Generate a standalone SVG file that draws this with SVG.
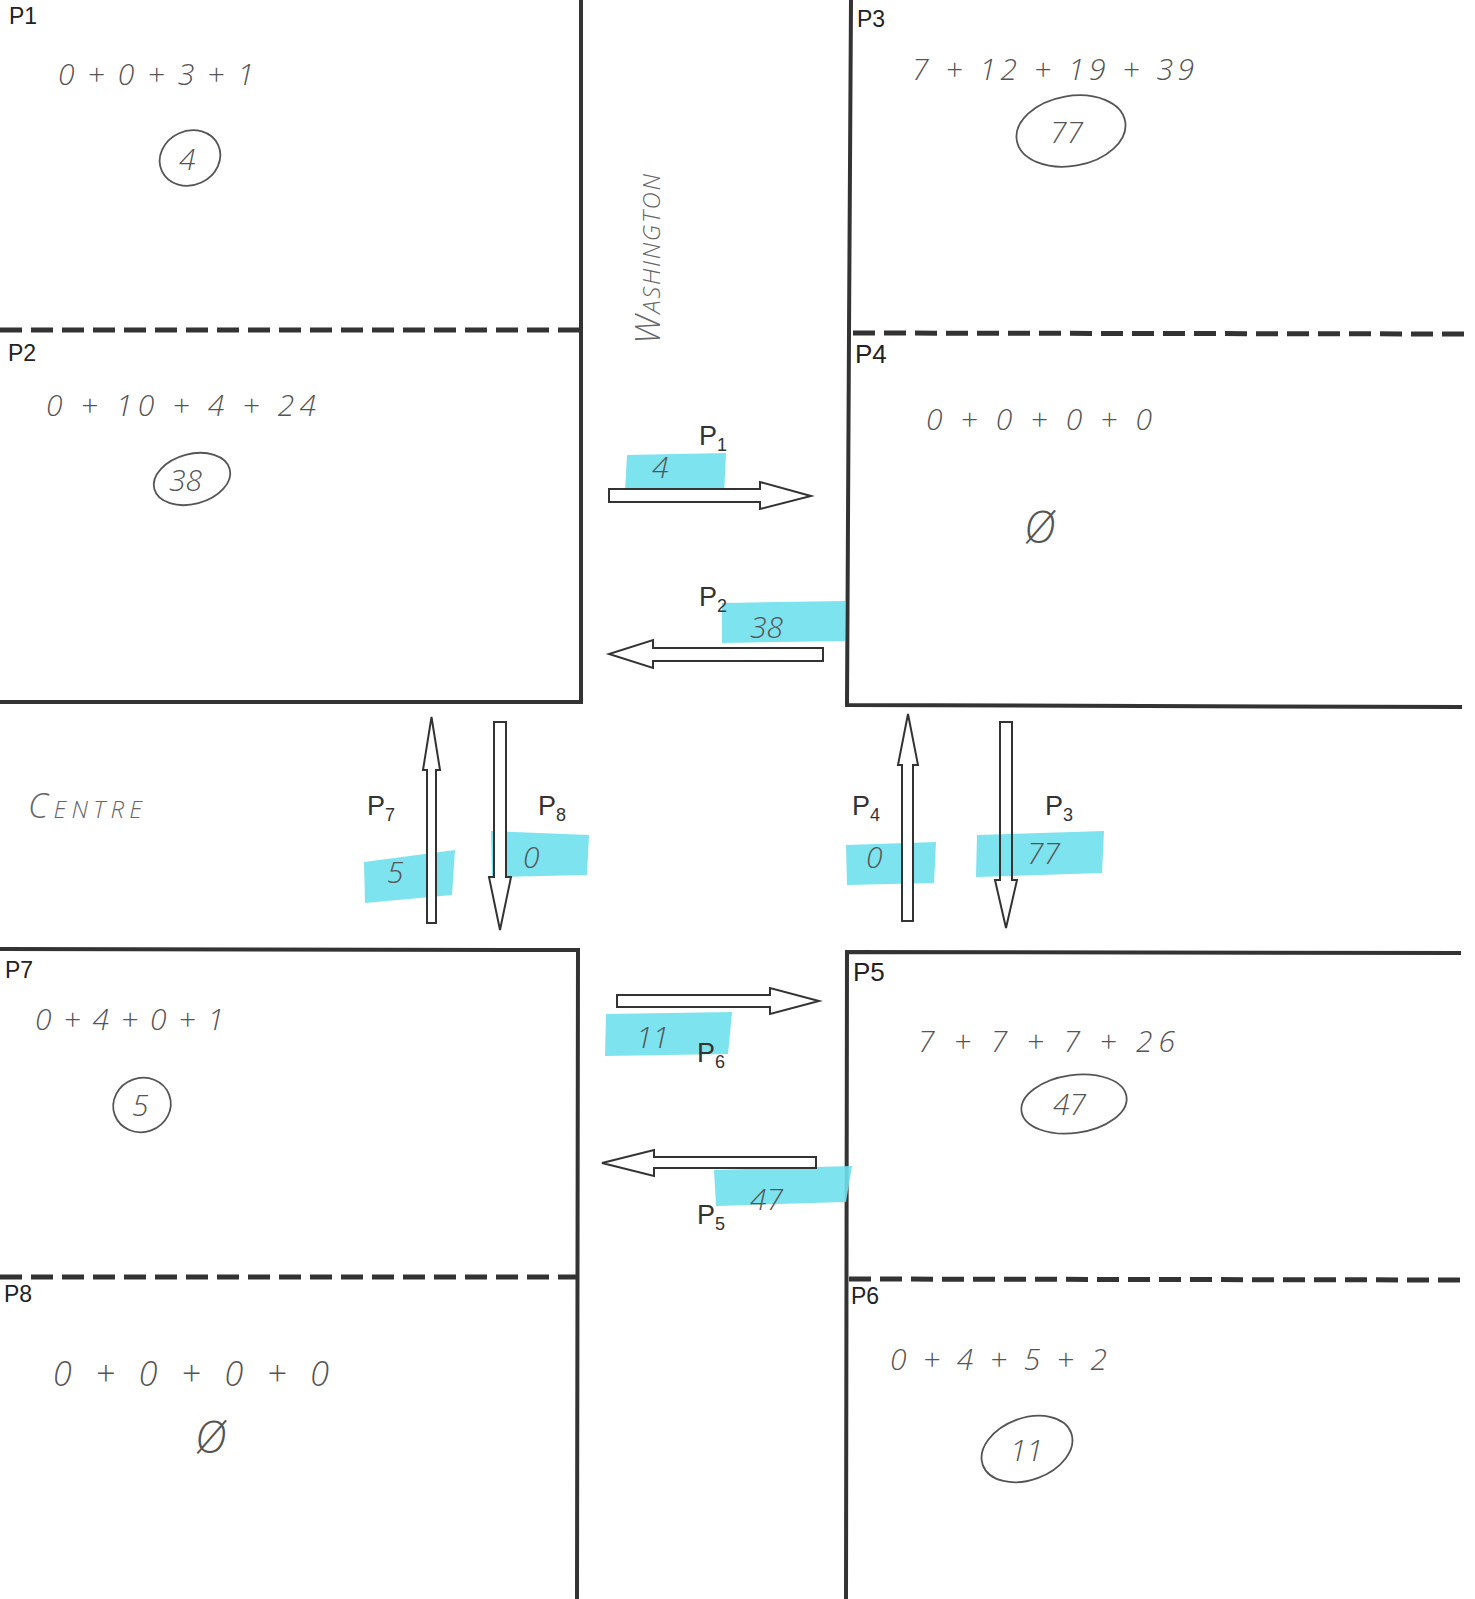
<svg xmlns="http://www.w3.org/2000/svg" width="1475" height="1599" viewBox="0 0 1475 1599">
<style>
.wall{stroke:#333;stroke-width:4;fill:none}
.dash{stroke:#333;stroke-width:5;fill:none;stroke-dasharray:22 9}
.plabel{font-family:"Liberation Sans",Arial,sans-serif;font-size:23px;fill:#222}
.alabel{font-family:"Liberation Sans",Arial,sans-serif;font-size:27px;fill:#333}
.sub{font-size:18px}
.hand{font-family:"Open Sans","Liberation Sans",sans-serif;font-style:italic;font-weight:300;font-size:30px;fill:#555}
.ring{stroke:#555;stroke-width:1.8;fill:none}
.hl{fill:#6fe0ec;opacity:0.9}
.arrow{fill:#fff;stroke:#333;stroke-width:2}
.street{font-family:"Open Sans","Liberation Sans",sans-serif;font-style:italic;font-weight:300;font-variant:small-caps;font-size:34px;fill:#666}
</style>
<rect width="1475" height="1599" fill="#fff"/>

<g id="blocks">
  <polyline class="wall" points="0,702 581,702 581,0"/>
  <line class="dash" x1="0" y1="330" x2="581" y2="330"/>
  <polyline class="wall" points="851,0 849,333 847,705 1462,707"/>
  <line class="dash" x1="853" y1="333" x2="1464" y2="334"/>
  <polyline class="wall" points="0,949 578,950 577,1599"/>
  <line class="dash" x1="0" y1="1277" x2="577" y2="1277"/>
  <polyline class="wall" points="846,1599 847,952 1461,953"/>
  <line class="dash" x1="849" y1="1279" x2="1462" y2="1280"/>
</g>

<g id="streets">
  <text class="street" transform="translate(660,344) rotate(-90)" textLength="170" lengthAdjust="spacing">Washington</text>
  <text class="street" x="28" y="818" textLength="114" lengthAdjust="spacing">Centre</text>
</g>

<g id="P1">
  <text class="plabel" x="9" y="24">P1</text>
  <text class="hand" x="58" y="85" textLength="196" lengthAdjust="spacing">0 + 0 + 3 + 1</text>
  <ellipse class="ring" cx="190" cy="158" rx="31" ry="27" transform="rotate(-25 190 158)"/>
  <text class="hand" x="179" y="170">4</text>
</g>
<g id="P2">
  <text class="plabel" x="8" y="361">P2</text>
  <text class="hand" x="46" y="416" textLength="270" lengthAdjust="spacing">0 + 10 + 4 + 24</text>
  <ellipse class="ring" cx="192" cy="479" rx="39" ry="25" transform="rotate(-15 192 479)"/>
  <text class="hand" x="169" y="491">38</text>
</g>
<g id="P3">
  <text class="plabel" x="857" y="27">P3</text>
  <text class="hand" x="912" y="80" textLength="282" lengthAdjust="spacing">7 + 12 + 19 + 39</text>
  <ellipse class="ring" cx="1071" cy="131" rx="55" ry="35" transform="rotate(-10 1071 131)"/>
  <text class="hand" x="1050" y="143">77</text>
</g>
<g id="P4">
  <text class="plabel" x="855" y="363" style="font-size:26px">P4</text>
  <text class="hand" x="926" y="430" textLength="226" lengthAdjust="spacing">0 + 0 + 0 + 0</text>
  <text class="hand" x="1024" y="543" style="font-size:44px">Ø</text>
</g>
<g id="P5">
  <text class="plabel" x="853" y="981" style="font-size:26px">P5</text>
  <text class="hand" x="918" y="1052" textLength="257" lengthAdjust="spacing">7 + 7 + 7 + 26</text>
  <ellipse class="ring" cx="1074" cy="1104" rx="53" ry="29" transform="rotate(-8 1074 1104)"/>
  <text class="hand" x="1053" y="1115">47</text>
</g>
<g id="P6">
  <text class="plabel" x="851" y="1304">P6</text>
  <text class="hand" x="890" y="1370" textLength="217" lengthAdjust="spacing">0 + 4 + 5 + 2</text>
  <ellipse class="ring" cx="1027" cy="1449" rx="47" ry="31" transform="rotate(-20 1027 1449)"/>
  <text class="hand" x="1010" y="1461">11</text>
</g>
<g id="P7">
  <text class="plabel" x="5" y="978">P7</text>
  <text class="hand" x="35" y="1030" textLength="189" lengthAdjust="spacing">0 + 4 + 0 + 1</text>
  <ellipse class="ring" cx="142" cy="1105" rx="29" ry="27" transform="rotate(-20 142 1105)"/>
  <text class="hand" x="132" y="1116">5</text>
</g>
<g id="P8">
  <text class="plabel" x="4" y="1302">P8</text>
  <text class="hand" x="53" y="1386" style="font-size:34px" textLength="276" lengthAdjust="spacing">0 + 0 + 0 + 0</text>
  <text class="hand" x="195" y="1453" style="font-size:44px">Ø</text>
</g>

<g id="highlights">
  <path class="hl" d="M627,455 L726,453 L724,494 L625,492 Z"/>
  <path class="hl" d="M722,603 L845,601 L845,641 L722,643 Z"/>
  <path class="hl" d="M606,1014 L732,1012 L728,1054 L605,1056 Z"/>
  <path class="hl" d="M714,1170 L852,1166 L846,1202 L716,1206 Z"/>
  <path class="hl" d="M364,862 L455,850 L452,895 L365,903 Z"/>
  <path class="hl" d="M491,831 L589,835 L587,875 L492,877 Z"/>
  <path class="hl" d="M846,845 L936,842 L934,883 L847,885 Z"/>
  <path class="hl" d="M977,835 L1104,831 L1102,873 L976,877 Z"/>
</g>

<g id="connectors">
  <path class="arrow" d="M609,489 H760 V482 L811,496 L760,509 V502 H609 Z"/>
  <path class="arrow" d="M823,648 H653 V640 L609,654 L653,668 V661 H823 Z"/>
  <path class="arrow" d="M617,995 H770 V988 L819,1001 L770,1014 V1007 H617 Z"/>
  <path class="arrow" d="M816,1157 H654 V1150 L602,1163 L654,1176 V1168 H816 Z"/>
  <path class="arrow" d="M427,923 V770 H423 L431.5,717 L440,770 H436 V923 Z"/>
  <path class="arrow" d="M494,722 H506 V877 H511 L500,930 L489,877 H494 Z"/>
  <path class="arrow" d="M902,921 V765 H898 L908,714 L918,765 H913 V921 Z"/>
  <path class="arrow" d="M1000,722 H1012 V880 H1017 L1006,928 L995,880 H1000 Z" style="fill:none"/>
</g>

<g id="arrow-labels">
  <text class="alabel" x="699" y="445">P<tspan class="sub" dy="6">1</tspan></text>
  <text class="hand" x="652" y="478">4</text>
  <text class="alabel" x="699" y="606">P<tspan class="sub" dy="6">2</tspan></text>
  <text class="hand" x="750" y="638">38</text>
  <text class="hand" x="636" y="1048">11</text>
  <text class="alabel" x="697" y="1062">P<tspan class="sub" dy="6">6</tspan></text>
  <text class="hand" x="750" y="1210">47</text>
  <text class="alabel" x="697" y="1224">P<tspan class="sub" dy="6">5</tspan></text>
  <text class="alabel" x="367" y="815">P<tspan class="sub" dy="6">7</tspan></text>
  <text class="hand" x="387" y="883">5</text>
  <text class="alabel" x="538" y="815">P<tspan class="sub" dy="6">8</tspan></text>
  <text class="hand" x="523" y="868">0</text>
  <text class="alabel" x="852" y="815">P<tspan class="sub" dy="6">4</tspan></text>
  <text class="hand" x="866" y="868">0</text>
  <text class="alabel" x="1045" y="815">P<tspan class="sub" dy="6">3</tspan></text>
  <text class="hand" x="1027" y="864">77</text>
</g>
</svg>
